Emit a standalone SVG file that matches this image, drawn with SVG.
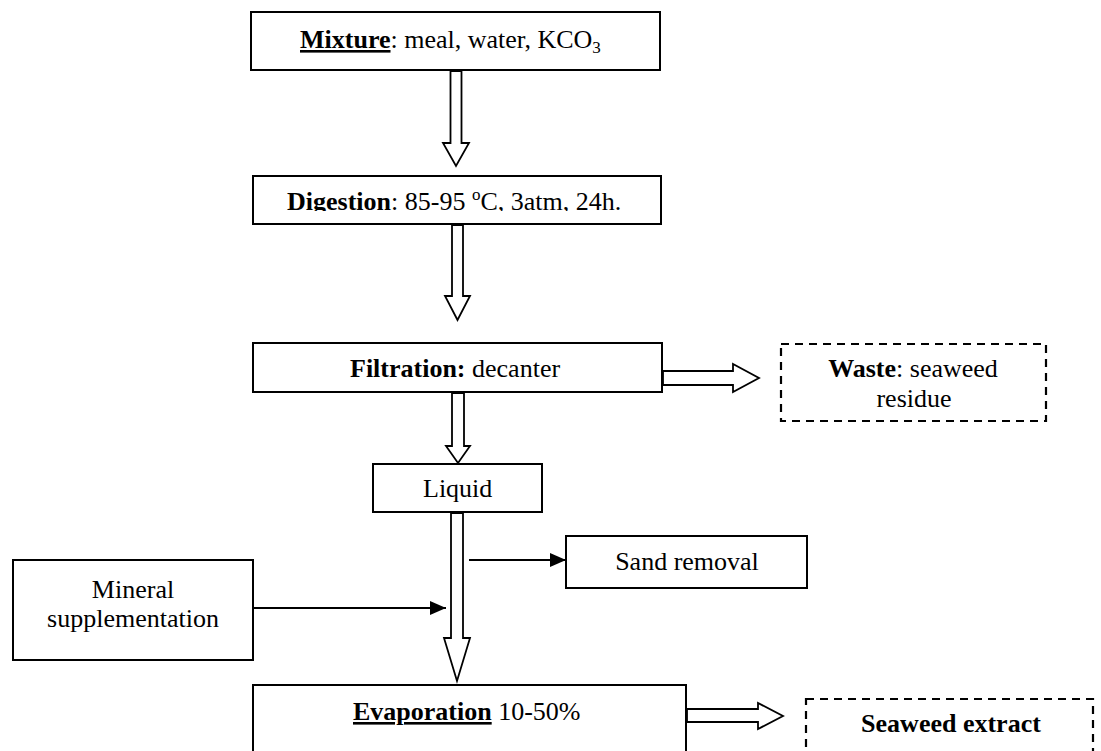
<svg xmlns="http://www.w3.org/2000/svg" width="1101" height="751" viewBox="0 0 1101 751">
<style>
.box{fill:#fff;stroke:#000;stroke-width:2}
.dash{fill:#fff;stroke:#000;stroke-width:2.2;stroke-dasharray:8 6}
.barrow{fill:#fff;stroke:#000;stroke-width:1.8;stroke-linejoin:miter}
.line{fill:none;stroke:#000;stroke-width:2}
text{font-family:"Liberation Serif","Times New Roman",serif;font-size:26px;fill:#000}
.b{font-weight:bold}
</style>
<defs>
<marker id="ah" markerWidth="16" markerHeight="14" refX="16" refY="7" orient="auto" markerUnits="userSpaceOnUse">
<path d="M0,0 L16,7 L0,14 Z" fill="#000"/>
</marker>
<clipPath id="clipDig"><rect x="253" y="176" width="408" height="35"/></clipPath>
</defs>
<rect width="1101" height="751" fill="#fff"/>
<g id="connectors">
<polygon class="barrow" points="450.5,71 450.5,143 443,143 456,166 469,143 461.5,143 461.5,71"/>
<polygon class="barrow" points="452,225 452,296 445,296 457.5,320 470,296 463,296 463,225"/>
<polygon class="barrow" points="452,393 452,446 446,446 458,463 470,446 464,446 464,393"/>
<polygon class="barrow" points="451,513 451,638 444,638 457,681 470,638 463,638 463,513"/>
<polygon class="barrow" points="663,371 733,371 733,364 759,378 733,392 733,385 663,385"/>
<polygon class="barrow" points="687,709 758,709 758,703 783,716 758,729 758,722 687,722"/>
<line class="line" x1="469" y1="560" x2="566" y2="560" marker-end="url(#ah)"/>
<line class="line" x1="253" y1="608" x2="446" y2="608" marker-end="url(#ah)"/>
</g>
<g id="mixture">
<rect class="box" x="251" y="12" width="409" height="58"/>
<text x="300" y="48"><tspan class="b" text-decoration="underline">Mixture</tspan>: meal, water, KCO<tspan font-size="17" dy="5">3</tspan></text>
</g>
<g id="digestion">
<rect class="box" x="253" y="176" width="408" height="48"/>
<text x="287" y="210" clip-path="url(#clipDig)"><tspan class="b">Digestion</tspan>: 85-95 <tspan font-size="17" dy="-10">o</tspan><tspan dy="10">C, 3atm, 24h.</tspan></text>
</g>
<g id="filtration">
<rect class="box" x="253" y="343" width="409" height="49"/>
<text x="350" y="377"><tspan class="b">Filtration:</tspan> decanter</text>
</g>
<g id="waste">
<rect class="dash" x="781" y="344" width="265" height="77"/>
<text x="913" y="377" text-anchor="middle"><tspan class="b">Waste</tspan>: seaweed</text>
<text x="914" y="407" text-anchor="middle">residue</text>
</g>
<g id="liquid">
<rect class="box" x="373" y="464" width="169" height="48"/>
<text x="423" y="497">Liquid</text>
</g>
<g id="sand">
<rect class="box" x="566" y="536" width="241" height="52"/>
<text x="687" y="570" text-anchor="middle">Sand removal</text>
</g>
<g id="mineral">
<rect class="box" x="13" y="560" width="240" height="100"/>
<text x="133" y="598" text-anchor="middle">Mineral</text>
<text x="133" y="627" text-anchor="middle">supplementation</text>
</g>
<g id="evaporation">
<rect class="box" x="253" y="685" width="433" height="90"/>
<text x="353" y="720"><tspan class="b" text-decoration="underline">Evaporation</tspan> 10-50%</text>
</g>
<g id="extract">
<rect class="dash" x="806" y="699" width="287" height="80"/>
<text x="951" y="732" text-anchor="middle" class="b">Seaweed extract</text>
</g>
</svg>
